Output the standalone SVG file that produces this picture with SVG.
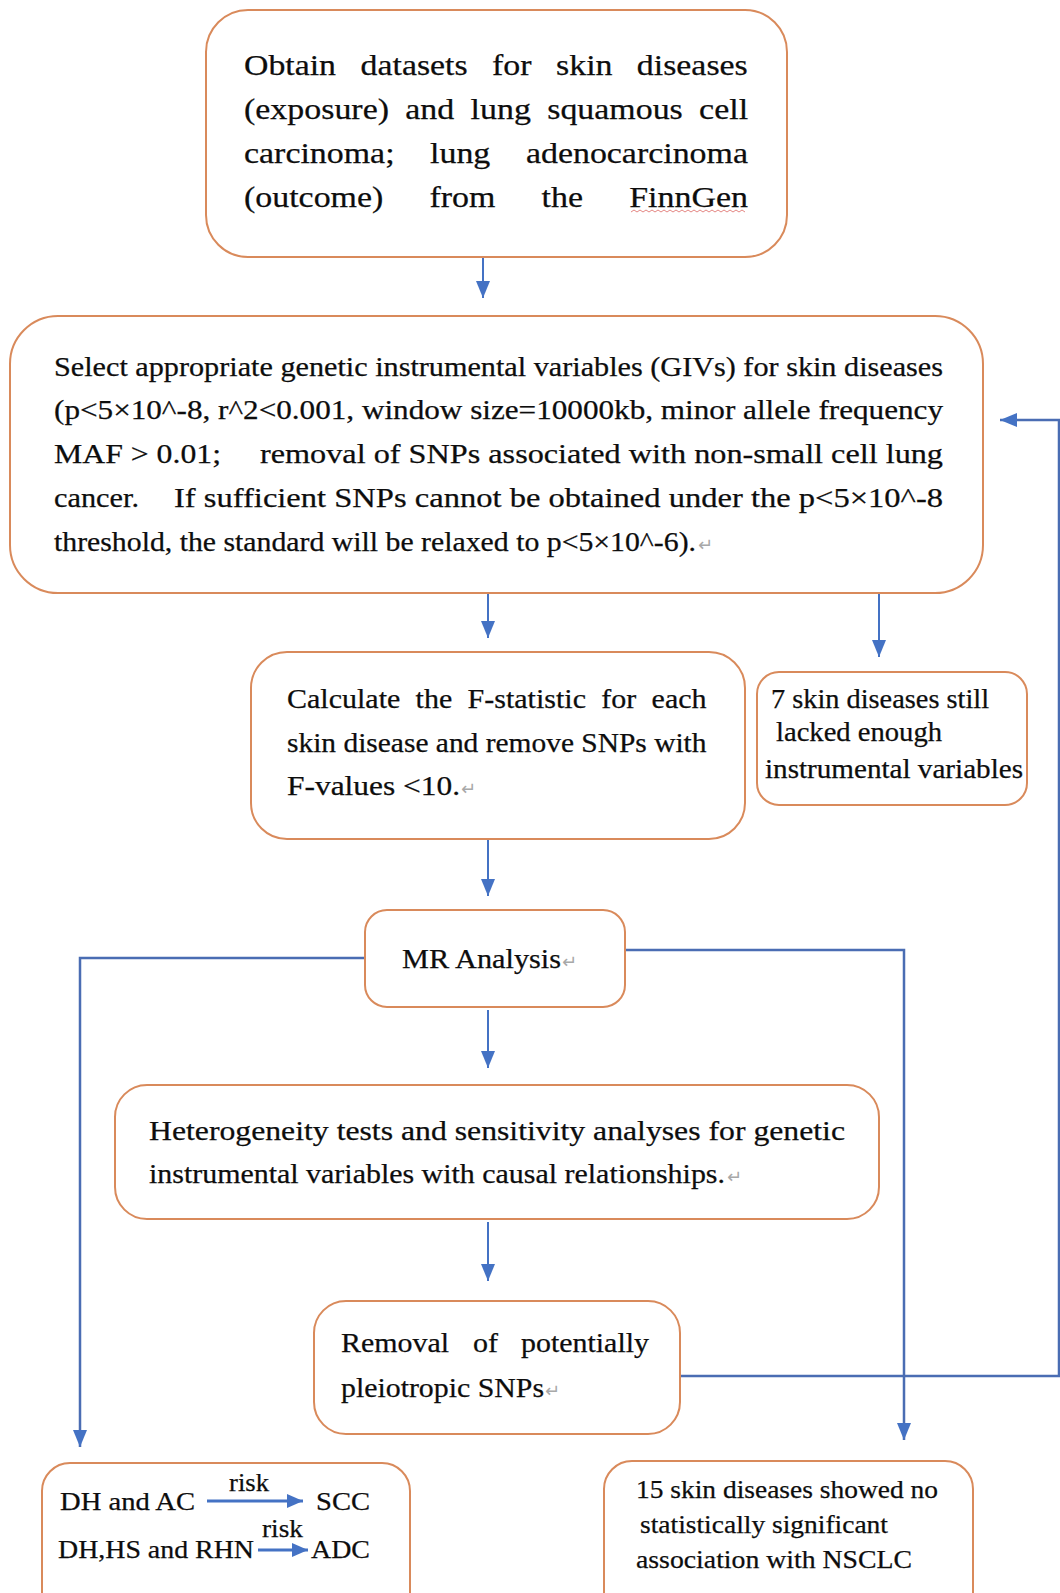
<svg xmlns="http://www.w3.org/2000/svg" width="1060" height="1593" viewBox="0 0 1060 1593">
<style>
.box{fill:#fff;stroke:#D98A5B;stroke-width:2}
.t{font-family:"Liberation Serif","Times New Roman",serif;fill:#0d0d0d;stroke:#0d0d0d;stroke-width:0.25}
.f30{font-size:30px}
.f28{font-size:28px}
.f27{font-size:27px}
.f26{font-size:26px}
.ret{font-family:"DejaVu Sans",sans-serif;fill:#a8a8a8;font-size:18px}
.c{fill:none;stroke:#4472C4;stroke-width:2}
.c2{fill:none;stroke:#4A6DB3;stroke-width:2.5}
.c3{fill:none;stroke:#4472C4;stroke-width:3}
</style>
<defs>
<marker id="ah" viewBox="0 0 17 14" refX="17" refY="7" markerWidth="17" markerHeight="14" markerUnits="userSpaceOnUse" orient="auto">
<path d="M0,0 L17,7 L0,14 Z" fill="#4472C4"/>
</marker>
<marker id="ahs" viewBox="0 0 16 14" refX="16" refY="7" markerWidth="16" markerHeight="14" markerUnits="userSpaceOnUse" orient="auto">
<path d="M0,0 L16,7 L0,14 Z" fill="#4472C4"/>
</marker>
</defs>
<rect width="1060" height="1593" fill="#fff"/>

<g id="connectors">
<path class="c" d="M483,257 V298" marker-end="url(#ah)"/>
<path class="c" d="M488,594 V638" marker-end="url(#ah)"/>
<path class="c" d="M879,594 V657" marker-end="url(#ah)"/>
<path class="c" d="M488,839 V896" marker-end="url(#ah)"/>
<path class="c2" d="M365,958 H80 V1447" marker-end="url(#ah)"/>
<path class="c2" d="M625,950 H904 V1440" marker-end="url(#ah)"/>
<path class="c" d="M488,1010 V1068" marker-end="url(#ah)"/>
<path class="c" d="M488,1222 V1281" marker-end="url(#ah)"/>
<path class="c2" d="M680,1376 H1059 V420 H1000" marker-end="url(#ah)"/>
</g>

<g id="node-obtain">
<rect class="box" x="206" y="10" width="581" height="247" rx="42"/>
<g class="t f30">
<text x="244" y="75" textLength="92" lengthAdjust="spacingAndGlyphs">Obtain</text>
<text x="360.6" y="75" textLength="107" lengthAdjust="spacingAndGlyphs">datasets</text>
<text x="492" y="75" textLength="39.5" lengthAdjust="spacingAndGlyphs">for</text>
<text x="556" y="75" textLength="56.5" lengthAdjust="spacingAndGlyphs">skin</text>
<text x="636.8" y="75" textLength="111" lengthAdjust="spacingAndGlyphs">diseases</text>
<text x="244" y="119" textLength="145" lengthAdjust="spacingAndGlyphs">(exposure)</text>
<text x="405.3" y="119" textLength="49" lengthAdjust="spacingAndGlyphs">and</text>
<text x="470.6" y="119" textLength="60.3" lengthAdjust="spacingAndGlyphs">lung</text>
<text x="547.2" y="119" textLength="135.6" lengthAdjust="spacingAndGlyphs">squamous</text>
<text x="699.1" y="119" textLength="49" lengthAdjust="spacingAndGlyphs">cell</text>
<text x="244" y="163" textLength="150.6" lengthAdjust="spacingAndGlyphs">carcinoma;</text>
<text x="430" y="163" textLength="60.3" lengthAdjust="spacingAndGlyphs">lung</text>
<text x="525.9" y="163" textLength="222.1" lengthAdjust="spacingAndGlyphs">adenocarcinoma</text>
<text x="244" y="207" textLength="139.3" lengthAdjust="spacingAndGlyphs">(outcome)</text>
<text x="429.5" y="207" textLength="65.9" lengthAdjust="spacingAndGlyphs">from</text>
<text x="541.6" y="207" textLength="41.4" lengthAdjust="spacingAndGlyphs">the</text>
<text x="629.2" y="207" textLength="118.7" lengthAdjust="spacingAndGlyphs">FinnGen</text>
</g>
<path d="M631,212 l3,-2 l3,2 l3,-2 l3,2 l3,-2 l3,2 l3,-2 l3,2 l3,-2 l3,2 l3,-2 l3,2 l3,-2 l3,2 l3,-2 l3,2 l3,-2 l3,2 l3,-2 l3,2 l3,-2 l3,2 l3,-2 l3,2 l3,-2 l3,2 l3,-2 l3,2 l3,-2 l3,2 l3,-2 l3,2 l3,-2 l3,2 l3,-2 l3,2 l3,-2 l3,2" fill="none" stroke="#d9534f" stroke-width="1" opacity="0.7"/>
</g>

<g id="node-select">
<rect class="box" x="10" y="316" width="973" height="277" rx="48"/>
<g class="t f28">
<text x="54" y="376" textLength="889" lengthAdjust="spacingAndGlyphs">Select appropriate genetic instrumental variables (GIVs) for skin diseases</text>
<text x="54" y="419" textLength="889" lengthAdjust="spacingAndGlyphs">(p&lt;5×10^-8, r^2&lt;0.001, window size=10000kb, minor allele frequency</text>
<text x="54" y="463" textLength="167" lengthAdjust="spacingAndGlyphs">MAF &gt; 0.01;</text>
<text x="260" y="463" textLength="683" lengthAdjust="spacingAndGlyphs">removal of SNPs associated with non-small cell lung</text>
<text x="54" y="507" textLength="85" lengthAdjust="spacingAndGlyphs">cancer.</text>
<text x="174" y="507" textLength="769" lengthAdjust="spacingAndGlyphs">If sufficient SNPs cannot be obtained under the p&lt;5×10^-8</text>
<text x="54" y="551" textLength="642" lengthAdjust="spacingAndGlyphs">threshold, the standard will be relaxed to p&lt;5×10^-6).</text>
</g>
<text class="ret" x="698" y="551">↵</text>
</g>

<g id="node-fstat">
<rect class="box" x="251" y="652" width="494" height="187" rx="36"/>
<g class="t f28">
<text x="287" y="708" textLength="113.3" lengthAdjust="spacingAndGlyphs">Calculate</text>
<text x="415.6" y="708" textLength="36.7" lengthAdjust="spacingAndGlyphs">the</text>
<text x="467.6" y="708" textLength="118.4" lengthAdjust="spacingAndGlyphs">F-statistic</text>
<text x="601.3" y="708" textLength="35" lengthAdjust="spacingAndGlyphs">for</text>
<text x="651.6" y="708" textLength="55" lengthAdjust="spacingAndGlyphs">each</text>
<text x="287" y="752" textLength="419.5" lengthAdjust="spacingAndGlyphs">skin disease and remove SNPs with</text>
<text x="287" y="795" textLength="173" lengthAdjust="spacingAndGlyphs">F-values &lt;10.</text>
</g>
<text class="ret" x="461" y="795">↵</text>
</g>

<g id="node-lacked">
<rect class="box" x="757" y="672" width="270" height="133" rx="22"/>
<g class="t f27">
<text x="771" y="708" textLength="218" lengthAdjust="spacingAndGlyphs">7 skin diseases still</text>
<text x="776" y="741" textLength="166" lengthAdjust="spacingAndGlyphs">lacked enough</text>
<text x="765" y="778" textLength="258" lengthAdjust="spacingAndGlyphs">instrumental variables</text>
</g>
</g>

<g id="node-mr">
<rect class="box" x="365" y="910" width="260" height="97" rx="22"/>
<text class="t f28" x="402" y="968" textLength="159" lengthAdjust="spacingAndGlyphs">MR Analysis</text>
<text class="ret" x="562" y="968">↵</text>
</g>

<g id="node-hetero">
<rect class="box" x="115" y="1085" width="764" height="134" rx="32"/>
<g class="t f28">
<text x="149" y="1140" textLength="696" lengthAdjust="spacingAndGlyphs">Heterogeneity tests and sensitivity analyses for genetic</text>
<text x="149" y="1183" textLength="576" lengthAdjust="spacingAndGlyphs">instrumental variables with causal relationships.</text>
</g>
<text class="ret" x="727" y="1183">↵</text>
</g>

<g id="node-removal">
<rect class="box" x="314" y="1301" width="366" height="133" rx="32"/>
<g class="t f28">
<text x="341" y="1352" textLength="108" lengthAdjust="spacingAndGlyphs">Removal</text>
<text x="473" y="1352" textLength="25" lengthAdjust="spacingAndGlyphs">of</text>
<text x="521" y="1352" textLength="128" lengthAdjust="spacingAndGlyphs">potentially</text>
<text x="341" y="1397" textLength="203" lengthAdjust="spacingAndGlyphs">pleiotropic SNPs</text>
</g>
<text class="ret" x="545" y="1397">↵</text>
</g>

<g id="node-risk">
<rect class="box" x="42" y="1463" width="368" height="170" rx="28"/>
<path class="c3" d="M207,1501 H303" marker-end="url(#ahs)"/>
<path class="c3" d="M258,1550 H308" marker-end="url(#ahs)"/>
<g class="t f26">
<text x="60" y="1510" textLength="135" lengthAdjust="spacingAndGlyphs">DH and AC</text>
<text x="229" y="1491" textLength="40" lengthAdjust="spacingAndGlyphs">risk</text>
<text x="316" y="1510" textLength="54" lengthAdjust="spacingAndGlyphs">SCC</text>
<text x="58" y="1558" textLength="196" lengthAdjust="spacingAndGlyphs">DH,HS and RHN</text>
<text x="262" y="1537" textLength="41" lengthAdjust="spacingAndGlyphs">risk</text>
<text x="311" y="1558" textLength="59" lengthAdjust="spacingAndGlyphs">ADC</text>
</g>
</g>

<g id="node-nosig">
<rect class="box" x="604" y="1461" width="369" height="170" rx="28"/>
<g class="t f26">
<text x="636" y="1498" textLength="302" lengthAdjust="spacingAndGlyphs">15 skin diseases showed no</text>
<text x="640" y="1533" textLength="248" lengthAdjust="spacingAndGlyphs">statistically significant</text>
<text x="636" y="1568" textLength="276" lengthAdjust="spacingAndGlyphs">association with NSCLC</text>
</g>
</g>
</svg>
